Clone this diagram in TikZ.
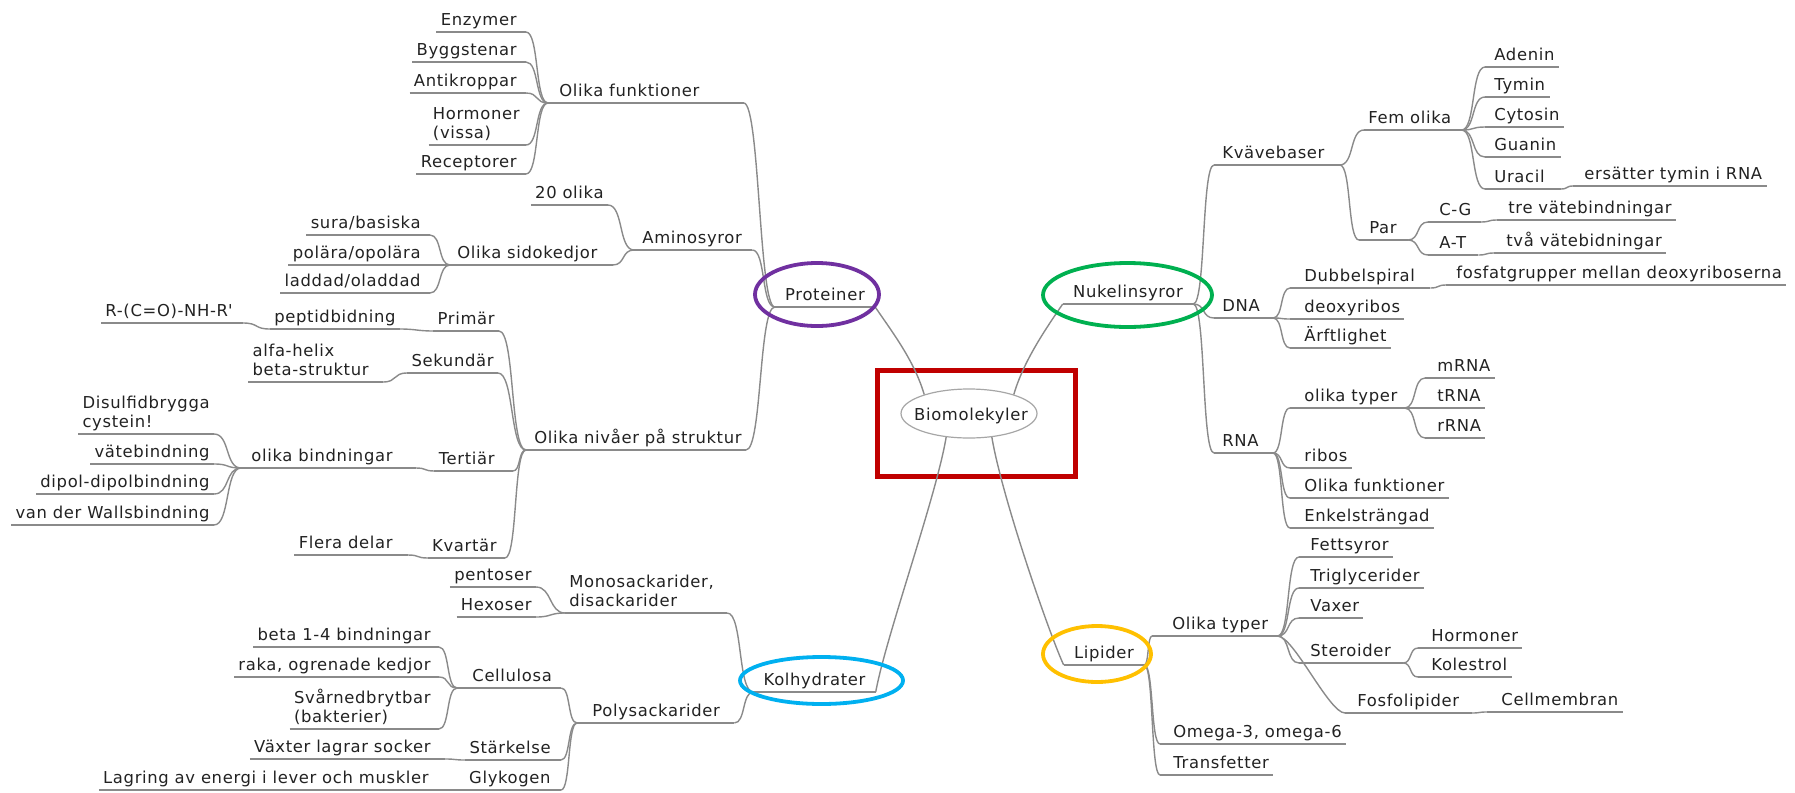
\documentclass[tikz,border=0pt]{standalone}
\usepackage{fontspec}
\setmainfont{DejaVu Sans}[LetterSpace=4]
\usetikzlibrary{shapes.geometric,calc}
\definecolor{edgegray}{HTML}{8A8A8A}
\definecolor{txt}{HTML}{222222}
\definecolor{ringpurple}{HTML}{7030A0}
\definecolor{ringgreen}{HTML}{00B050}
\definecolor{ringgold}{HTML}{FFC000}
\definecolor{ringblue}{HTML}{00B0F0}
\definecolor{boxred}{HTML}{C00000}
\def\lpadv{0pt}
\def\rpadv{0pt}
\tikzset{
  lp/.code={\def\lpadv{#1}},
  rp/.code={\def\rpadv{#1}},
  lbl/.style={font=\fontsize{8.2}{9.5}\selectfont, text=txt, inner xsep=2pt, inner ysep=0.4pt,
    execute at begin node={\hspace*{\lpadv}}, execute at end node={\hspace*{\rpadv}\strut}, align=left},
  lft/.style={lbl, anchor=south east},
  rgt/.style={lbl, anchor=south west, lp=3.5pt},
  fork/.style={lbl, anchor=south west},
  mainnode/.style={lbl, anchor=south, inner xsep=5pt},
  edge/.style={draw=edgegray, line width=0.7pt},
  fm/.style={to path={let \p1=(\tikztostart), \p2=(\tikztotarget), \n1={min(8,0.6*abs(\x2-\x1))} in .. controls ([xshift=\n1]\p1) and ([xshift=-\n1]\p2) .. (\p2)}},
  ring/.style={ellipse, draw=#1, line width=1.9pt, inner sep=0pt},
}
\begin{document}
\begin{tikzpicture}[x=0.5pt,y=-0.5pt]
\useasboundingbox (0,0) rectangle (1795,793);

% ---------- root ----------
\node[ellipse, draw=gray!70, line width=0.6pt, minimum width=68pt, minimum height=24.5pt, inner sep=0pt] (bioring) at (969,413.5) {};
\node[lbl, anchor=base] (bio) at (971,420) {Biomolekyler};
\node[draw=boxred, line width=2.5pt, minimum width=99pt, minimum height=53pt, inner sep=0pt] (focus) at (976,423) {};

% ---------- Proteiner ----------
\node[mainnode] (prot) at (825,307) {Proteiner};
\node[fork, lp=3.5pt] (ofunk) at (548,103) {Olika funktioner};
\node[lft, rp=2.5pt] (enz) at (526,32) {Enzymer};
\node[lft, rp=2.5pt] (bygg) at (526,62) {Byggstenar};
\node[lft, rp=2.5pt] (anti) at (526,93) {Antikroppar};
\node[lft, rp=1pt] (horm) at (526,145) {Hormoner\\(vissa)};
\node[lft, rp=2.5pt] (rec) at (526,174) {Receptorer};
\node[fork, lp=2pt] (amino) at (634,250) {Aminosyror};
\node[lft] (tjugo) at (608,205) {20 olika};
\node[fork, lp=1.5pt] (sido) at (450,265) {Olika sidokedjor};
\node[lft, rp=2.5pt] (sura) at (430,235) {sura/basiska};
\node[lft, rp=2.5pt] (polar) at (430,265) {polära/opolära};
\node[lft, rp=2.5pt] (ladd) at (430,293) {laddad/oladdad};
\node[fork, lp=2pt] (struk) at (526,450) {Olika nivåer på struktur};
\node[lft] (prim) at (499,331) {Primär};
\node[lft] (pept) at (400,329) {peptidbidning};
\node[lft, rp=3pt] (rco) at (243,323) {R-(C=O)-NH-R\textquotesingle};
\node[lft] (sek) at (498,373) {Sekundär};
\node[lft, rp=5pt] (alfa) at (383,382) {alfa-helix\\beta-struktur};
\node[lft] (tert) at (499,471) {Tertiär};
\node[fork, lp=3pt] (bind) at (241,468) {olika bindningar};
\node[lft] (disu) at (214,434) {Disulfidbrygga\\cystein!};
\node[lft] (vate) at (214,464) {vätebindning};
\node[lft] (dipol) at (214,494) {dipol-dipolbindning};
\node[lft] (vdw) at (214,525) {van der Wallsbindning};
\node[lft, rp=2pt] (kvart) at (505,558) {Kvartär};
\node[lft, rp=5.5pt] (flera) at (408,555) {Flera delar};

% ---------- Kolhydrater ----------
\node[mainnode] (kol) at (814.5,692) {Kolhydrater};
\node[fork] (mono) at (565,613) {Monosackarider,\\disackarider};
\node[lft] (pent) at (536,587) {pentoser};
\node[lft] (hex) at (536,617) {Hexoser};
\node[fork, lp=5.5pt] (poly) at (577,723) {Polysackarider};
\node[fork, lp=5.5pt] (cell) at (457,688) {Cellulosa};
\node[lft, rp=2pt] (b14) at (439,647) {beta 1-4 bindningar};
\node[lft, rp=2pt] (raka) at (439,677) {raka, ogrenade kedjor};
\node[lft, rp=2pt] (svar) at (439,729) {Svårnedbrytbar\\(bakterier)};
\node[lft, rp=3pt] (stark) at (561,760) {Stärkelse};
\node[lft, rp=5pt] (vaxt) at (445,759) {Växter lagrar socker};
\node[lft, rp=3pt] (glyk) at (561,790) {Glykogen};
\node[lft, rp=6pt] (lagr) at (445,790) {Lagring av energi i lever och muskler};

% ---------- Nukelinsyror ----------
\node[mainnode] (nuk) at (1128,304) {Nukelinsyror};
\node[rgt, lp=2pt] (kvav) at (1214,165) {Kvävebaser};
\node[rgt, lp=0pt] (fem) at (1364,130) {Fem olika};
\node[rgt, lp=2.5pt] (aden) at (1485,67) {Adenin};
\node[rgt, lp=2.5pt] (tym) at (1485,97) {Tymin};
\node[rgt, lp=2.5pt] (cyt) at (1485,127) {Cytosin};
\node[rgt, lp=2.5pt] (gua) at (1485,157) {Guanin};
\node[rgt, lp=2.5pt] (ura) at (1485,189) {Uracil};
\node[rgt] (ers) at (1573,186) {ersätter tymin i RNA};
\node[rgt, lp=3pt] (par) at (1359,240) {Par};
\node[rgt] (cg) at (1428,222) {C-G};
\node[rgt] (tre) at (1497,220) {tre vätebindningar};
\node[rgt] (at) at (1428,255) {A-T};
\node[rgt, lp=4pt] (tva) at (1494,253) {två vätebidningar};
\node[rgt, lp=2pt] (dna) at (1214,318) {DNA};
\node[rgt, lp=5pt] (dubb) at (1290,288) {Dubbelspiral};
\node[rgt, lp=3pt] (fosf) at (1446,285) {fosfatgrupper mellan deoxyriboserna};
\node[rgt, lp=5pt] (deox) at (1290,319) {deoxyribos};
\node[rgt, lp=5pt] (arft) at (1290,348) {Ärftlighet};
\node[rgt, lp=2pt] (rna) at (1214,453) {RNA};
\node[rgt, lp=5pt] (otyp) at (1290,408) {olika typer};
\node[rgt, lp=4pt] (mrna) at (1425,378) {mRNA};
\node[rgt, lp=4pt] (trna) at (1425,408) {tRNA};
\node[rgt, lp=4pt] (rrna) at (1425,438) {rRNA};
\node[rgt, lp=5pt] (ribos) at (1290,468) {ribos};
\node[rgt, lp=5pt] (ofunkb) at (1290,498) {Olika funktioner};
\node[rgt, lp=5pt] (enkel) at (1290,528) {Enkelsträngad};

% ---------- Lipider ----------
\node[mainnode] (lip) at (1104,665) {Lipider};
\node[rgt, lp=8pt] (ltyp) at (1152,636) {Olika typer};
\node[rgt] (fett) at (1299,557) {Fettsyror};
\node[rgt] (trig) at (1299,588) {Triglycerider};
\node[rgt] (vax) at (1299,618) {Vaxer};
\node[rgt] (ster) at (1299,663) {Steroider};
\node[rgt, lp=4.5pt] (hormb) at (1418,648) {Hormoner};
\node[rgt, lp=4.5pt] (kolest) at (1418,677) {Kolestrol};
\node[rgt, lp=4pt] (fosfo) at (1345,713) {Fosfolipider};
\node[rgt, lp=5pt] (cellm) at (1487,712) {Cellmembran};
\node[rgt, lp=4.5pt] (omega) at (1160,744) {Omega-3, omega-6};
\node[rgt, lp=4.5pt] (trans) at (1160,775) {Transfetter};

% ---------- underlines ----------
\foreach \n in {prot,ofunk,enz,bygg,anti,horm,rec,amino,tjugo,sido,sura,polar,ladd,struk,prim,pept,rco,sek,alfa,tert,bind,disu,vate,dipol,vdw,kvart,flera,
  kol,mono,pent,hex,poly,cell,b14,raka,svar,stark,vaxt,glyk,lagr,
  nuk,kvav,fem,aden,tym,cyt,gua,ura,ers,par,cg,tre,at,tva,dna,dubb,fosf,deox,arft,rna,otyp,mrna,trna,rrna,ribos,ofunkb,enkel,
  lip,ltyp,fett,trig,vax,ster,hormb,kolest,fosfo,cellm,omega,trans}
  \draw[edge] (\n.south west) -- (\n.south east);

% ---------- leads ----------
\draw[edge] (ofunk.south east) -- ++(40,0) coordinate (ofunkR);
\draw[edge] (amino.south east) -- ++(6,0) coordinate (aminoR);
\draw[edge] (sido.south east) -- ++(11,0) coordinate (sidoR);
\draw[edge] (bind.south east) -- ++(19,0) coordinate (bindR);
\draw[edge] (tert.south east) -- ++(14,0) coordinate (tertR);
\draw[edge] (cell.south east) -- ++(5,0) coordinate (cellR);
\draw[edge] (mono.south east) -- ++(9,0) coordinate (monoR);
\draw[edge] (poly.south east) -- ++(10,0) coordinate (polyR);
\draw[edge] (kvav.south east) -- ++(11,0) coordinate (kvavR);
\draw[edge] (fem.south east) -- ++(6,0) coordinate (femR);
\draw[edge] (par.south east) -- ++(7,0) coordinate (parR);
\draw[edge] (cg.south east) -- ++(5,0) coordinate (cgR);
\draw[edge] (at.south east) -- ++(8,0) coordinate (atR);
\draw[edge] (ura.south east) -- ++(12,0) coordinate (uraR);
\draw[edge] (dna.south east) -- ++(9,0) coordinate (dnaR);
\draw[edge] (dubb.south east) -- ++(11,0) coordinate (dubbR);
\draw[edge] (rna.south east) -- ++(10,0) coordinate (rnaR);
\draw[edge] (otyp.south east) -- ++(3,0) coordinate (otypR);
\draw[edge] (ltyp.south east) -- ++(5,0) coordinate (ltypR);
\draw[edge] (ster.south east) -- ++(8,0) coordinate (sterR);
\draw[edge] (fosfo.south east) -- ++(8,0) coordinate (fosfoR);

% ---------- Proteiner edges ----------
\foreach \c in {enz,bygg,anti,horm,rec} \draw[edge] (\c.south east) to[fm] (ofunk.south west);
\draw[edge] (ofunkR) to[fm] (prot.south west);
\draw[edge] (tjugo.south east) to[fm] (amino.south west);
\foreach \c in {sura,polar,ladd} \draw[edge] (\c.south east) to[fm] (sido.south west);
\draw[edge] (sidoR) to[fm] (amino.south west);
\draw[edge] (aminoR) to[fm] (prot.south west);
\draw[edge] (rco.south east) to[fm] (pept.south west);
\draw[edge] (pept.south east) to[fm] (prim.south west);
\draw[edge] (prim.south east) to[fm] (struk.south west);
\draw[edge] (alfa.south east) to[fm] (sek.south west);
\draw[edge] (sek.south east) to[fm] (struk.south west);
\foreach \c in {disu,vate,dipol,vdw} \draw[edge] (\c.south east) to[fm] (bind.south west);
\draw[edge] (bindR) to[fm] (tert.south west);
\draw[edge] (tertR) to[fm] (struk.south west);
\draw[edge] (flera.south east) to[fm] (kvart.south west);
\draw[edge] (kvart.south east) to[fm] (struk.south west);
\draw[edge] (struk.south east) to[fm] (prot.south west);

% ---------- Kolhydrater edges ----------
\foreach \c in {pent,hex} \draw[edge] (\c.south east) to[fm] (mono.south west);
\draw[edge] (monoR) to[fm] (kol.south west);
\foreach \c in {b14,raka,svar} \draw[edge] (\c.south east) to[fm] (cell.south west);
\draw[edge] (vaxt.south east) to[fm] (stark.south west);
\draw[edge] (lagr.south east) to[fm] (glyk.south west);
\draw[edge] (cellR) to[fm] (poly.south west);
\draw[edge] (stark.south east) to[fm] (poly.south west);
\draw[edge] (glyk.south east) to[fm] (poly.south west);
\draw[edge] (polyR) to[fm] (kol.south west);

% ---------- Nukelinsyror edges ----------
\foreach \c in {kvav,dna,rna} \draw[edge] (nuk.south east) to[fm] (\c.south west);
\foreach \c in {fem,par} \draw[edge] (kvavR) to[fm] (\c.south west);
\foreach \c in {aden,tym,cyt,gua,ura} \draw[edge] (femR) to[fm] (\c.south west);
\draw[edge] (uraR) to[fm] (ers.south west);
\foreach \c in {cg,at} \draw[edge] (parR) to[fm] (\c.south west);
\draw[edge] (cgR) to[fm] (tre.south west);
\draw[edge] (atR) to[fm] (tva.south west);
\foreach \c in {dubb,deox,arft} \draw[edge] (dnaR) to[fm] (\c.south west);
\draw[edge] (dubbR) to[fm] (fosf.south west);
\foreach \c in {otyp,ribos,ofunkb,enkel} \draw[edge] (rnaR) to[fm] (\c.south west);
\foreach \c in {mrna,trna,rrna} \draw[edge] (otypR) to[fm] (\c.south west);

% ---------- Lipider edges ----------
\foreach \c in {ltyp,omega,trans} \draw[edge] (lip.south east) to[fm] (\c.south west);
\foreach \c in {fett,trig,vax,ster,fosfo} \draw[edge] (ltypR) to[fm] (\c.south west);
\foreach \c in {hormb,kolest} \draw[edge] (sterR) to[fm] (\c.south west);
\draw[edge] (fosfoR) to[fm] (cellm.south west);

% ---------- root edges ----------
\draw[edge] (bioring.157) .. controls +(-10,-34) and +(17,25) .. (prot.south east);
\draw[edge] (bioring.23) .. controls +(10,-34) and +(-17,25) .. (nuk.south west);
\draw[edge] (bioring.226) .. controls +(-10,60) and +(10,-55) .. (kol.south east);
\draw[edge] (bioring.314) .. controls +(10,60) and +(-14,-30) .. (lip.south west);

% ---------- highlight rings ----------
\node[ring=ringpurple, minimum width=62pt, minimum height=31.5pt] (protring) at (817,294.5) {};
\node[ring=ringgreen, minimum width=84.5pt, minimum height=32pt] (nukring) at (1127.5,295) {};
\node[ring=ringgold, minimum width=54pt, minimum height=28pt] (lipring) at (1097,654) {};
\node[ring=ringblue, minimum width=81.5pt, minimum height=23.5pt] (kolring) at (821.5,680.5) {};
\end{tikzpicture}
\end{document}
